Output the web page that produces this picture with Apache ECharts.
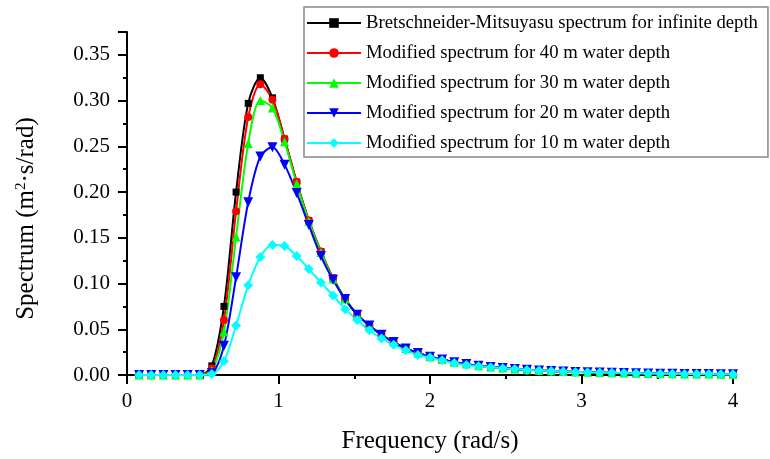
<!DOCTYPE html>
<html>
<head>
<meta charset="utf-8">
<title>Wave spectrum</title>
<script src="https://cdn.jsdelivr.net/npm/echarts@6/dist/echarts.min.js"></script>
<style>
  html, body { margin: 0; padding: 0; background: #fff; }
  #chart { width: 770px; height: 459px; }
</style>
</head>
<body>
<div id="chart"></div>
<script>
// frequency samples (rad/s)
const freq = [
  0.08, 0.16, 0.24, 0.32, 0.40, 0.48, 0.56, 0.64, 0.72, 0.80,
  0.88, 0.96, 1.04, 1.12, 1.20, 1.28, 1.36, 1.44, 1.52, 1.60,
  1.68, 1.76, 1.84, 1.92, 2.00, 2.08, 2.16, 2.24, 2.32, 2.40,
  2.48, 2.56, 2.64, 2.72, 2.80, 2.88, 2.96, 3.04, 3.12, 3.20,
  3.28, 3.36, 3.44, 3.52, 3.60, 3.68, 3.76, 3.84, 3.92, 4.00,
]

const infiniteDepth = [
  0, 0, 0, 0, 0, 0, 0.010, 0.075, 0.200, 0.297,
  0.325, 0.303, 0.258, 0.211, 0.169, 0.135, 0.106, 0.083, 0.066, 0.054,
  0.044, 0.036, 0.029, 0.024, 0.020, 0.017, 0.014, 0.012, 0.010, 0.0088,
  0.0076, 0.0066, 0.0057, 0.0050, 0.0044, 0.0039, 0.0034, 0.0030, 0.0027, 0.0024,
  0.0021, 0.0019, 0.0017, 0.0015, 0.0014, 0.0012, 0.0011, 0.0010, 0.0009, 0.0008,
]
const depth40 = [
  0, 0, 0, 0, 0, 0, 0.007, 0.060, 0.179, 0.282,
  0.318, 0.301, 0.258, 0.211, 0.169, 0.135, 0.106, 0.083, 0.066, 0.054,
  0.044, 0.036, 0.029, 0.024, 0.020, 0.017, 0.014, 0.012, 0.010, 0.0088,
  0.0076, 0.0066, 0.0057, 0.0050, 0.0044, 0.0039, 0.0034, 0.0030, 0.0027, 0.0024,
  0.0021, 0.0019, 0.0017, 0.0015, 0.0014, 0.0012, 0.0011, 0.0010, 0.0009, 0.0008,
]
const depth30 = [
  0, 0, 0, 0, 0, 0, 0.005, 0.047, 0.151, 0.253,
  0.300, 0.292, 0.255, 0.209, 0.168, 0.134, 0.105, 0.083, 0.066, 0.054,
  0.044, 0.036, 0.029, 0.024, 0.020, 0.017, 0.014, 0.012, 0.010, 0.0088,
  0.0076, 0.0066, 0.0057, 0.0050, 0.0044, 0.0039, 0.0034, 0.0030, 0.0027, 0.0024,
  0.0021, 0.0019, 0.0017, 0.0015, 0.0014, 0.0012, 0.0011, 0.0010, 0.0009, 0.0008,
]
const depth20 = [
  0, 0, 0, 0, 0, 0, 0.002, 0.032, 0.107, 0.189,
  0.239, 0.249, 0.230, 0.199, 0.164, 0.130, 0.104, 0.083, 0.066, 0.054,
  0.044, 0.036, 0.029, 0.024, 0.020, 0.017, 0.014, 0.012, 0.010, 0.0088,
  0.0076, 0.0066, 0.0057, 0.0050, 0.0044, 0.0039, 0.0034, 0.0030, 0.0027, 0.0024,
  0.0021, 0.0019, 0.0017, 0.0015, 0.0014, 0.0012, 0.0011, 0.0010, 0.0009, 0.0008,
]
const depth10 = [
  0, 0, 0, 0, 0, 0, 0.001, 0.015, 0.054, 0.098,
  0.129, 0.142, 0.141, 0.130, 0.116, 0.101, 0.087, 0.072, 0.060, 0.049,
  0.040, 0.033, 0.027, 0.022, 0.019, 0.016, 0.013, 0.011, 0.0097, 0.0085,
  0.0074, 0.0065, 0.0056, 0.0050, 0.0044, 0.0039, 0.0034, 0.0030, 0.0027, 0.0024,
  0.0021, 0.0019, 0.0017, 0.0015, 0.0014, 0.0012, 0.0011, 0.0010, 0.0009, 0.0008,
]

const seriesNames = [
  'Bretschneider-Mitsuyasu spectrum for infinite depth',
  'Modified spectrum for 40 m water depth',
  'Modified spectrum for 30 m water depth',
  'Modified spectrum for 20 m water depth',
  'Modified spectrum for 10 m water depth',
]
const seriesValues = [infiniteDepth, depth40, depth30, depth20, depth10]

const font = '"Times New Roman", "Liberation Serif", serif'
const styles = [
  { color: '#000000', symbol: 'rect', symbolSize: 7 },
  { color: '#ff0000', symbol: 'circle', symbolSize: 8 },
  { color: '#00ff00', symbol: 'triangle', symbolSize: 9 },
  { color: '#0000ff', symbol: 'triangle', symbolSize: 10, symbolRotate: 180 },
  { color: '#00ffff', symbol: 'diamond', symbolSize: 10 },
]

const chart = echarts.init(document.getElementById('chart'))

const series = seriesValues.map((values, idx) => ({
  name: seriesNames[idx],
  type: 'line',
  data: values.map((v, i) => [freq[i], v]),
  smooth: 0.3,
  symbol: styles[idx].symbol,
  symbolSize: styles[idx].symbolSize,
  symbolRotate: styles[idx].symbolRotate || 0,
  showAllSymbol: true,
  lineStyle: { color: styles[idx].color, width: 2 },
  itemStyle: { color: styles[idx].color },
  emphasis: { disabled: true },
  animation: false,
}))

const axisCommon = {
  axisLine: { show: true, lineStyle: { color: '#000', width: 2 } },
  axisTick: { show: true, inside: false, length: 9, lineStyle: { color: '#000', width: 2 } },
  minorTick: { show: true, splitNumber: 2, length: 4, lineStyle: { color: '#000', width: 2 } },
  splitLine: { show: false },
  axisLabel: { color: '#000', fontFamily: font, fontSize: 21 },
  nameTextStyle: { color: '#000', fontFamily: font, fontSize: 25 },
}

const options = {
  backgroundColor: '#fff',
  animation: false,
  grid: { left: 127, right: 37, top: 32, bottom: 84, containLabel: false },
  legend: {
    orient: 'vertical',
    left: 304,
    top: 7,
    padding: [6, 10, 4, 2],
    itemWidth: 54,
    itemHeight: 12,
    itemGap: 10,
    borderColor: '#888',
    borderWidth: 1.5,
    backgroundColor: '#fff',
    textStyle: { color: '#000', fontFamily: font, fontSize: 18.7, lineHeight: 20 },
    data: seriesNames,
  },
  xAxis: {
    ...axisCommon,
    type: 'value',
    min: 0,
    max: 4,
    interval: 1,
    name: 'Frequency (rad/s)',
    nameLocation: 'middle',
    nameGap: 54,
    axisLabel: { ...axisCommon.axisLabel, margin: 16 },
  },
  yAxis: {
    ...axisCommon,
    type: 'value',
    min: 0,
    max: 0.375,
    interval: 0.05,
    name: 'Spectrum (m{sup|2}·s/rad)',
    nameLocation: 'middle',
    nameGap: 88,
    nameTextStyle: {
      ...axisCommon.nameTextStyle,
      padding: [0, 30, 0, 0],
      rich: {
        sup: { fontFamily: font, fontSize: 15, verticalAlign: 'top', padding: [0, 0, 10, 0], color: '#000' },
      },
    },
    axisLabel: {
      ...axisCommon.axisLabel,
      margin: 17,
      showMaxLabel: false,
      formatter: v => v.toFixed(2),
    },
  },
  series,
}

chart.setOption(options)
</script>
</body>
</html>
